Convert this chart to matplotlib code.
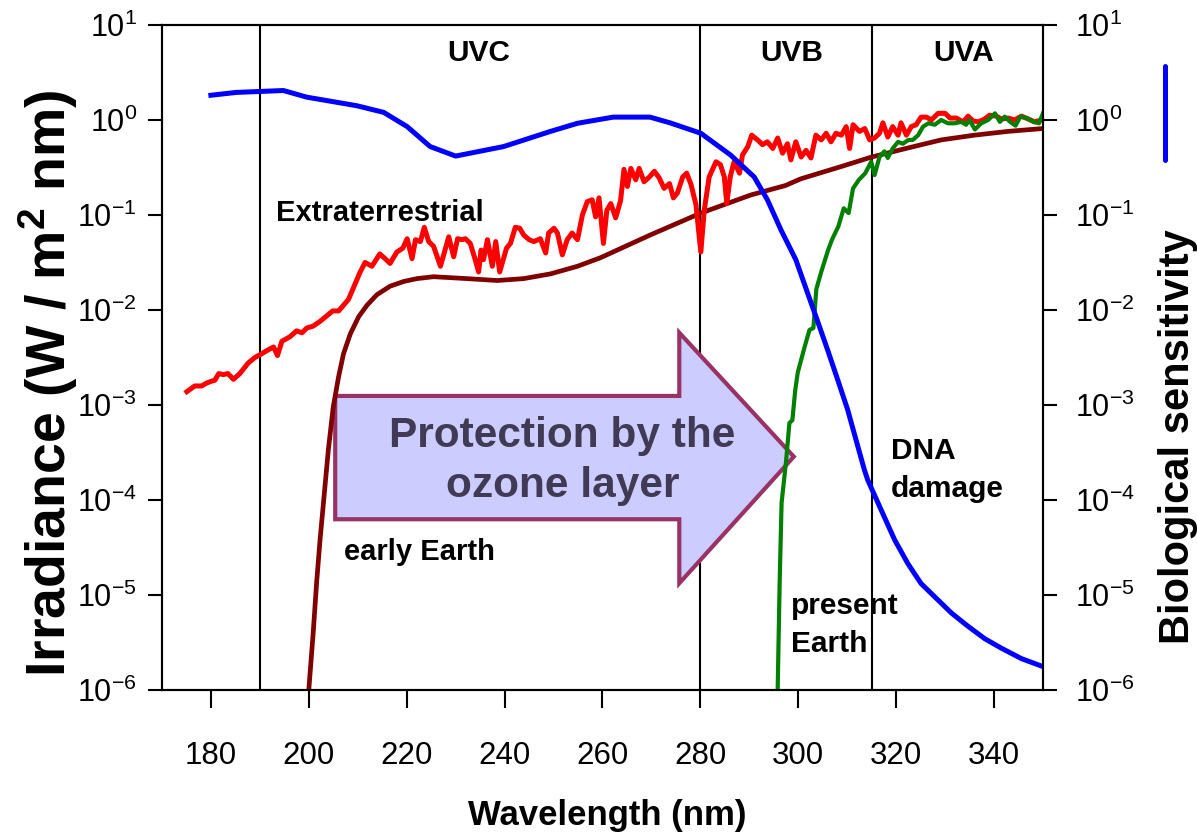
import numpy as np
import matplotlib
matplotlib.use('Agg')
import matplotlib.pyplot as plt
from matplotlib.patches import Polygon
from matplotlib.lines import Line2D

plt.rcParams['font.family'] = ['Liberation Sans', 'DejaVu Sans']
plt.rcParams['mathtext.fontset'] = 'custom'
plt.rcParams['mathtext.rm'] = 'Liberation Sans'
plt.rcParams['mathtext.bf'] = 'Liberation Sans:bold'

# extraterrestrial solar spectrum (nm, log10 W/m2/nm)
red_nm = [175.1, 176.7, 178.1, 179.1, 180.1, 180.8, 181.6, 182.5, 183.5, 184.6, 185.9, 187.6,
          189.0, 190.4, 191.7, 192.8, 193.6, 194.5, 196.2, 197.5, 198.6, 199.6, 200.9, 202.3,
          203.7, 204.9, 206.1, 207.1, 208.1, 209.1, 210.5, 211.5, 212.9, 214.5, 215.6, 216.6,
          218.0, 219.2, 220.1, 221.1, 221.8, 222.8, 223.6, 224.5, 225.5, 226.9, 228.6, 229.6,
          230.4, 231.3, 232.0, 233.0, 234.0, 234.7, 235.2, 235.7, 236.5, 237.5, 238.2, 239.0,
          240.4, 241.2, 242.2, 243.1, 243.9, 245.0, 246.0, 247.3, 248.4, 249.0, 250.1, 250.8,
          251.8, 252.8, 253.8, 254.9, 255.9, 256.9, 257.9, 258.6, 259.3, 260.2, 260.9, 261.7,
          262.7, 263.7, 264.4, 265.1, 265.8, 266.8, 267.5, 268.5, 269.6, 270.6, 271.6, 272.6,
          273.7, 274.5, 275.3, 276.4, 277.2, 278.1, 279.1, 280.1, 280.8, 281.8, 283.2, 284.1,
          284.9, 285.4, 286.1, 286.9, 288.0, 288.6, 289.7, 290.5, 291.7, 292.7, 293.7, 294.8,
          295.8, 296.8, 297.8, 298.5, 299.5, 300.6, 301.6, 302.6, 303.6, 304.7, 305.7, 306.7,
          307.7, 308.8, 309.8, 310.5, 311.2, 312.5, 313.6, 314.6, 315.6, 316.6, 317.3, 318.3,
          319.3, 320.4, 321.0, 322.1, 323.1, 324.1, 325.1, 326.2, 327.2, 328.6, 330.0, 331.0,
          332.3, 333.7, 334.7, 335.7, 336.8, 338.1, 339.1, 340.5, 341.5, 342.9, 344.2, 345.6,
          347.0, 348.3, 349.7]
red_log = [-2.86, -2.80, -2.80, -2.77, -2.75, -2.74, -2.67, -2.68, -2.67, -2.73, -2.67, -2.56,
           -2.50, -2.46, -2.42, -2.39, -2.48, -2.33, -2.28, -2.22, -2.24, -2.19, -2.17, -2.12,
           -2.06, -2.01, -2.01, -1.95, -1.89, -1.77, -1.60, -1.50, -1.54, -1.41, -1.46, -1.51,
           -1.39, -1.35, -1.25, -1.46, -1.26, -1.28, -1.13, -1.28, -1.33, -1.54, -1.23, -1.44,
           -1.25, -1.26, -1.25, -1.30, -1.47, -1.60, -1.37, -1.47, -1.26, -1.54, -1.28, -1.60,
           -1.35, -1.30, -1.13, -1.14, -1.21, -1.26, -1.28, -1.25, -1.40, -1.19, -1.14, -1.19,
           -1.42, -1.26, -1.19, -1.26, -1.00, -0.86, -0.84, -1.02, -0.82, -1.30, -0.95, -0.88,
           -1.03, -0.85, -0.52, -0.70, -0.51, -0.63, -0.51, -0.65, -0.60, -0.54, -0.61, -0.72,
           -0.67, -0.82, -0.77, -0.60, -0.56, -0.68, -0.89, -1.39, -0.95, -0.60, -0.44, -0.47,
           -0.60, -0.88, -0.60, -0.44, -0.56, -0.37, -0.28, -0.16, -0.21, -0.26, -0.23, -0.30,
           -0.19, -0.35, -0.25, -0.42, -0.23, -0.39, -0.32, -0.40, -0.16, -0.21, -0.14, -0.23,
           -0.14, -0.16, -0.07, -0.30, -0.05, -0.12, -0.09, -0.21, -0.19, -0.14, -0.03, -0.18,
           -0.07, -0.16, -0.03, -0.16, -0.07, -0.05, 0.03, 0.03, 0.00, 0.07, 0.07, 0.02,
           0.02, -0.02, 0.04, -0.01, -0.02, 0.01, 0.05, 0.04, 0.01, 0.02, 0.00, 0.04,
           0.01, -0.02, 0.00]

# surface irradiance on the early Earth
brown_nm = [200.0, 200.9, 201.6, 202.3, 203.0, 204.0, 205.0, 206.1, 207.1, 208.5, 210.2, 211.9,
            213.9, 216.6, 219.4, 222.1, 225.5, 232.3, 238.5, 243.9, 249.4, 254.9, 259.6, 269.8,
            280.1, 290.3, 297.4, 300.5, 308.8, 315.0, 322.0, 329.2, 336.0, 342.9, 350.0]
brown_log = [-6.0, -5.40, -4.87, -4.42, -4.03, -3.47, -3.02, -2.70, -2.46, -2.25, -2.07, -1.95,
             -1.84, -1.75, -1.70, -1.67, -1.65, -1.67, -1.69, -1.67, -1.62, -1.54, -1.45, -1.21,
             -0.98, -0.79, -0.69, -0.62, -0.49, -0.39, -0.30, -0.21, -0.16, -0.12, -0.09]

# surface irradiance today
green_nm = [295.8, 296.2, 296.6, 297.5, 298.2, 298.8, 299.4, 299.9, 301.3, 302.3, 303.1, 303.7,
            304.7, 306.1, 306.9, 308.2, 309.3, 310.3, 311.2, 312.4, 313.7, 314.9, 315.6, 316.6,
            317.6, 318.3, 319.3, 320.4, 321.4, 322.5, 323.4, 324.5, 325.5, 326.6, 327.9, 329.2,
            330.6, 332.0, 333.3, 334.3, 335.0, 336.1, 337.4, 338.8, 340.2, 341.2, 342.2, 343.3,
            344.4, 345.4, 346.7, 348.1, 349.2, 350.0]
green_log = [-6.0, -4.88, -4.03, -3.60, -3.19, -3.16, -2.84, -2.66, -2.39, -2.21, -2.19, -1.78,
             -1.60, -1.37, -1.26, -1.12, -0.93, -0.98, -0.72, -0.63, -0.56, -0.44, -0.58, -0.39,
             -0.33, -0.40, -0.30, -0.23, -0.25, -0.21, -0.21, -0.16, -0.07, -0.035, -0.05, 0.0,
             -0.035, -0.035, -0.02, -0.05, 0.0, -0.10, -0.035, 0.0, 0.07, -0.02, 0.035, -0.02,
             -0.06, 0.035, 0.02, -0.02, -0.035, 0.07]

# DNA damage action spectrum (relative)
blue_nm = [180.0, 185.2, 194.8, 199.6, 209.8, 215.3, 220.1, 224.8, 230.0, 239.8, 249.4, 254.9,
           262.2, 269.7, 273.8, 280.1, 286.2, 291.0, 293.7, 296.5, 299.5, 301.9, 303.9, 306.0,
           308.1, 310.1, 312.2, 313.5, 314.2, 317.6, 319.7, 322.4, 325.1, 327.9, 331.3, 334.7,
           338.1, 341.5, 345.6, 350.3]
blue_log = [0.26, 0.29, 0.31, 0.24, 0.15, 0.08, -0.07, -0.28, -0.38, -0.28, -0.12, -0.035,
            0.03, 0.03, -0.03, -0.14, -0.37, -0.60, -0.84, -1.16, -1.47, -1.82, -2.11, -2.42,
            -2.74, -3.05, -3.44, -3.68, -3.79, -4.18, -4.42, -4.67, -4.88, -5.02, -5.19, -5.33,
            -5.46, -5.56, -5.67, -5.76]

band_edges = [190, 280, 315]
bands = ['UVC', 'UVB', 'UVA']
band_mid = [234.7, 298.7, 333.7]
x_ticks = list(range(180, 341, 20))
decades = list(range(-6, 2))

fig = plt.figure(figsize=(11.97, 8.35), dpi=100)
ax = fig.add_axes([0.1353, 0.1737, 0.7360, 0.7964])

for x in band_edges:
    ax.axvline(x, color='black', lw=1.5, zorder=1)

# the ozone arrow
arrow = Polygon([(205.4, 10**-2.905), (275.7, 10**-2.905), (275.7, 10**-2.239),
                 (299.1, 10**-3.544), (275.7, 10**-4.877), (275.7, 10**-4.203),
                 (205.4, 10**-4.203)], closed=True, facecolor='#ccccff',
                edgecolor='#993366', lw=3, zorder=2)
ax.add_patch(arrow)
ax.text(251.8, 10**-3.59, 'Protection by the\nozone layer', ha='center', va='center',
        weight='bold', size=30.5, color='#403a55', linespacing=1.3, zorder=6)

ax.plot(brown_nm, 10**np.array(brown_log), color='#800000', lw=3.4, zorder=3)
ax.plot(red_nm, 10**np.array(red_log), color='#ff0000', lw=3.6, zorder=3,
        solid_joinstyle='round')
ax.plot(green_nm, 10**np.array(green_log), color='#008000', lw=3, zorder=4,
        solid_joinstyle='round')
ax.plot(blue_nm, 10**np.array(blue_log), color='#0000ff', lw=3.6, zorder=5,
        solid_joinstyle='round')

ax.set_yscale('log')
ax.set_xlim(170, 350)
ax.set_ylim(1e-6, 10)
ax.set_xticks(x_ticks)
ax.set_xticklabels([str(t) for t in x_ticks], size=22.5)
ax.set_yticks([10.0**d for d in decades])
ax.set_yticklabels([r'$\mathregular{10^{%d}}$' % d for d in decades], size=22)
ax.minorticks_off()
ax.tick_params(axis='x', direction='out', length=13, width=1.5, pad=24)
ax.tick_params(axis='y', direction='out', length=10, width=1.5, pad=8)
for s in ax.spines.values():
    s.set_linewidth(1.5)

ax2 = ax.twinx()
ax2.set_yscale('log')
ax2.set_ylim(1e-6, 10)
ax2.set_yticks([10.0**d for d in decades])
ax2.set_yticklabels([r'$\mathregular{10^{%d}}$' % d for d in decades], size=22)
ax2.minorticks_off()
ax2.tick_params(axis='y', direction='out', length=10, width=1.5, pad=13)
for s in ax2.spines.values():
    s.set_linewidth(1.5)

for name, x in zip(bands, band_mid):
    ax.text(x, 10**0.705, name, ha='center', va='center', weight='bold', size=21.5)

# curve labels (multi-line ones are anchored on the last baseline)
ax.text(193.3, 10**-1.06, 'Extraterrestrial', weight='bold', size=21, va='baseline')
ax.text(207.1, 10**-4.63, 'early Earth', weight='bold', size=21, va='baseline')
ax.text(319.0, 10**-3.965, 'DNA\ndamage', weight='bold', size=21.5, va='baseline',
        linespacing=1.45)
ax.text(298.5, 10**-5.597, 'present\nEarth', weight='bold', size=21.5, va='baseline',
        linespacing=1.45)

fig.text(607/1197, 1 - 815/835, 'Wavelength (nm)', ha='center', va='center',
         weight='bold', size=25)
fig.text(48/1197, 1 - 383/835, r'Irradiance (W / m$\mathbf{^2}$ nm)', ha='center',
         va='center', rotation=90, weight='bold', size=40)
fig.text(1178/1197, 1 - 437/835, 'Biological sensitivity', ha='center', va='center',
         rotation=90, weight='bold', size=30)

# blue key next to the right-hand label
fig.add_artist(Line2D([1165/1197, 1165/1197], [1 - 66/835, 1 - 160/835],
                      color='#0000ff', lw=3.6, solid_capstyle='round'))

fig.savefig('out.png', dpi=100)
